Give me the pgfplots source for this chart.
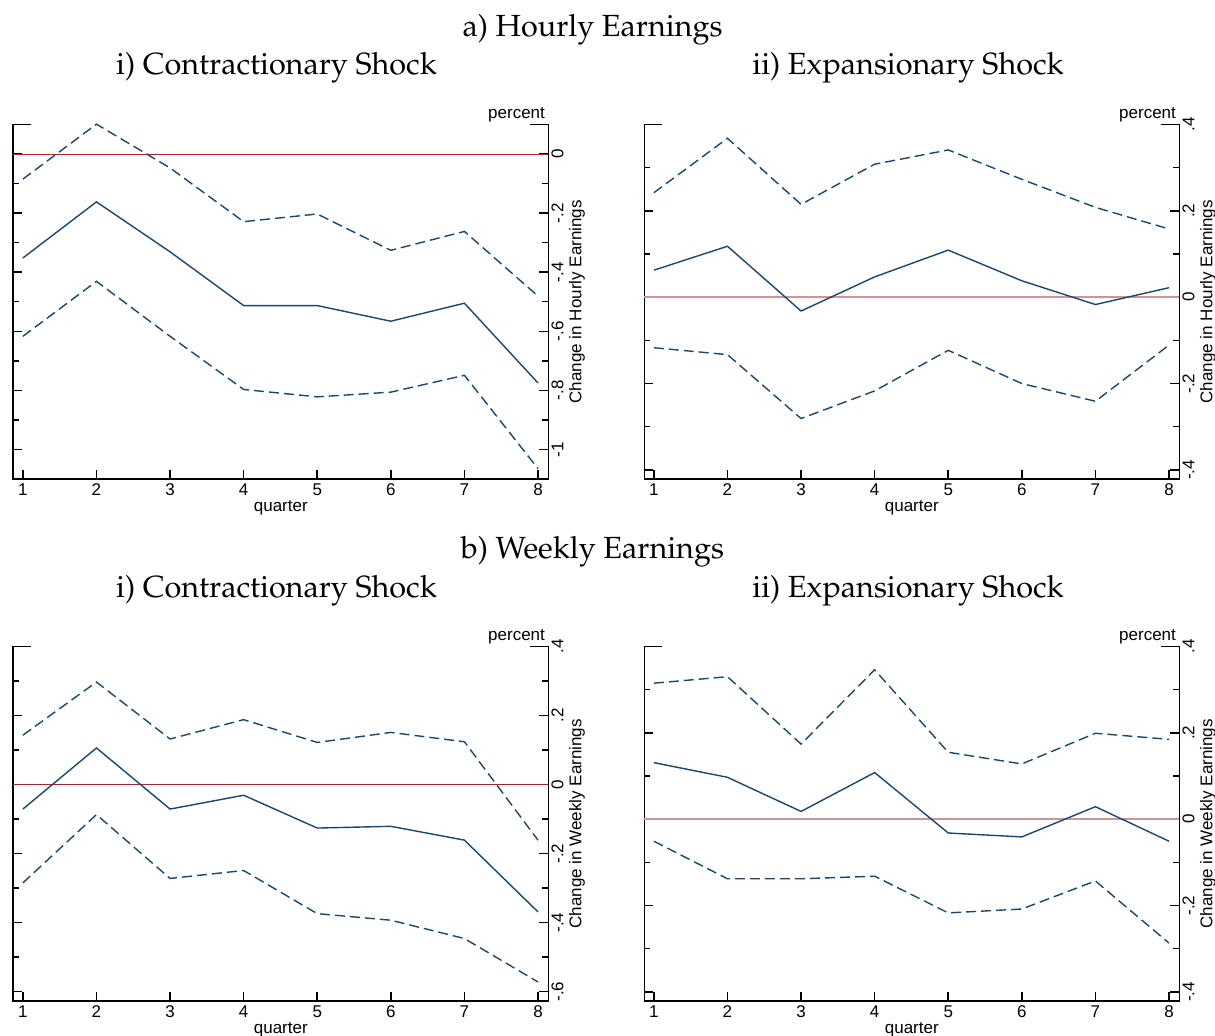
\documentclass[border=0pt]{standalone}
\usepackage[T1]{fontenc}
\usepackage{fontspec}
\setmainfont{Liberation Sans}
\usepackage{pgfplots}
\usepackage{pgfplotstable}
\pgfplotsset{compat=1.18}
\newcommand\pal{\fontencoding{T1}\fontfamily{ppl}\fontseries{m}\fontshape{n}\fontsize{15.3}{18}\selectfont}
\newcommand\sfs{\fontsize{8.5}{10}\selectfont}
\definecolor{navy}{RGB}{26,71,111}
\definecolor{zred}{RGB}{165,40,45}
\definecolor{zpink}{RGB}{205,150,150}

\pgfplotstableread{
q est hi lo
1 -0.352 -0.085 -0.617
2 -0.162 0.101 -0.431
3 -0.331 -0.047 -0.617
4 -0.513 -0.229 -0.797
5 -0.513 -0.203 -0.822
6 -0.566 -0.326 -0.806
7 -0.505 -0.262 -0.749
8 -0.775 -0.481 -1.065
}\HourCon
\pgfplotstableread{
q est hi lo
1 0.0625 0.242 -0.117
2 0.118 0.368 -0.133
3 -0.032 0.215 -0.281
4 0.047 0.308 -0.217
5 0.109 0.341 -0.123
6 0.038 0.273 -0.200
7 -0.017 0.208 -0.241
8 0.022 0.158 -0.111
}\HourExp
\pgfplotstableread{
q est hi lo
1 -0.071 0.143 -0.285
2 0.106 0.297 -0.087
3 -0.071 0.132 -0.272
4 -0.031 0.188 -0.249
5 -0.126 0.122 -0.374
6 -0.121 0.151 -0.393
7 -0.161 0.124 -0.446
8 -0.369 -0.161 -0.572
}\WeekCon
\pgfplotstableread{
q est hi lo
1 0.131 0.315 -0.051
2 0.097 0.330 -0.138
3 0.018 0.174 -0.138
4 0.108 0.346 -0.132
5 -0.032 0.155 -0.217
6 -0.041 0.128 -0.208
7 0.029 0.199 -0.143
8 -0.051 0.185 -0.287
}\WeekExp

\pgfplotsset{
  stata/.style={
    scale only axis, width=267.5pt, height=177.25pt,
    anchor=south west, clip=false,
    xmin=0.87, xmax=8.14,
    axis x line*=bottom, axis y line*=box,
    axis line style={black, line width=0.8pt, line cap=rect},
    tick align=inside,
    tick style={black, line width=0.75pt},
    major tick length=4.5pt, minor tick length=3pt,
    xtick={1,2,3,4,5,6,7,8}, xticklabels={1,2,3,4,5,6,7,8},
    ytick pos=both, yticklabel pos=right,
    xticklabel style={font=\sfs, inner sep=0pt, anchor=base, yshift=-8.5pt},
    yticklabel style={font=\sfs, inner sep=0pt, xshift=7.5pt, rotate=90, anchor=base},
    /pgf/number format/assume math mode=true,
  },
  est/.style={navy, line width=0.7pt},
  ci/.style={navy, line width=0.7pt, dash pattern=on 5pt off 2.5pt},
}
\newcommand\deco[1]{%
  \draw[black, line width=0.75pt] (rel axis cs:0,1) -- ([xshift=9pt]rel axis cs:0,1);
  \draw[black, line width=0.75pt] (rel axis cs:1,1) -- ([xshift=-9pt]rel axis cs:1,1);
  \node[anchor=base east, font=\sfs, inner sep=0pt, xshift=-1.5pt, yshift=3pt] at (rel axis cs:1,1) {percent};
  \node[anchor=base, font=\sfs, inner sep=0pt, xshift=16.5pt, rotate=90] at (rel axis cs:1,0.5) {Change in #1 Earnings};
  \node[anchor=base, font=\sfs, inner sep=0pt, yshift=-16.5pt] at (rel axis cs:0.5,0) {quarter};
}

\begin{document}
\begin{tikzpicture}
\path[use as bounding box] (0,0) rectangle (607.5pt,518pt);

% titles
\node[anchor=base, font=\pal, inner sep=0pt] at (296.25pt,499.65pt) {a) Hourly Earnings};
\node[anchor=base, font=\pal, inner sep=0pt] at (138.25pt,480.5pt) {i) Contractionary Shock};
\node[anchor=base, font=\pal, inner sep=0pt] at (454pt,480.5pt) {ii) Expansionary Shock};
\node[anchor=base, font=\pal, inner sep=0pt] at (296.25pt,238.55pt) {b) Weekly Earnings};
\node[anchor=base, font=\pal, inner sep=0pt] at (138.25pt,219.4pt) {i) Contractionary Shock};
\node[anchor=base, font=\pal, inner sep=0pt] at (454pt,219.4pt) {ii) Expansionary Shock};

% a-i
\begin{axis}[stata, at={(6.65pt,278.5pt)},
  ymin=-1.1, ymax=0.1,
  ytick={-1,-0.8,-0.6,-0.4,-0.2,0}, yticklabels={-1,-.8,-.6,-.4,-.2,0},
  minor ytick={-1.1,-0.9,-0.7,-0.5,-0.3,-0.1,0.1}]
\addplot[zred, line width=0.5pt] coordinates {(0.87,0) (8.14,0)};
\addplot[est] table[x=q,y=est]{\HourCon};
\addplot[ci] table[x=q,y=hi]{\HourCon};
\addplot[ci] table[x=q,y=lo]{\HourCon};
\deco{Hourly}
\end{axis}

% a-ii
\begin{axis}[stata, at={(322.15pt,278.5pt)},
  ymin=-0.421, ymax=0.4,
  ytick={-0.4,-0.2,0,0.2,0.4}, yticklabels={-.4,-.2,0,.2,.4},
  minor ytick={-0.3,-0.1,0.1,0.3}]
\addplot[zpink, line width=1pt] coordinates {(0.87,0) (8.14,0)};
\addplot[est] table[x=q,y=est]{\HourExp};
\addplot[ci] table[x=q,y=hi]{\HourExp};
\addplot[ci] table[x=q,y=lo]{\HourExp};
\deco{Hourly}
\end{axis}

% b-i
\begin{axis}[stata, at={(6.65pt,17.5pt)},
  ymin=-0.627, ymax=0.4,
  ytick={-0.6,-0.4,-0.2,0,0.2,0.4}, yticklabels={-.6,-.4,-.2,0,.2,.4},
  minor ytick={-0.5,-0.3,-0.1,0.1,0.3}]
\addplot[zred, line width=0.5pt] coordinates {(0.87,0) (8.14,0)};
\addplot[est] table[x=q,y=est]{\WeekCon};
\addplot[ci] table[x=q,y=hi]{\WeekCon};
\addplot[ci] table[x=q,y=lo]{\WeekCon};
\deco{Weekly}
\end{axis}

% b-ii
\begin{axis}[stata, at={(322.15pt,17.5pt)},
  ymin=-0.421, ymax=0.4,
  ytick={-0.4,-0.2,0,0.2,0.4}, yticklabels={-.4,-.2,0,.2,.4},
  minor ytick={-0.3,-0.1,0.1,0.3}]
\addplot[zpink, line width=1pt] coordinates {(0.87,0) (8.14,0)};
\addplot[est] table[x=q,y=est]{\WeekExp};
\addplot[ci] table[x=q,y=hi]{\WeekExp};
\addplot[ci] table[x=q,y=lo]{\WeekExp};
\deco{Weekly}
\end{axis}
\end{tikzpicture}
\end{document}
